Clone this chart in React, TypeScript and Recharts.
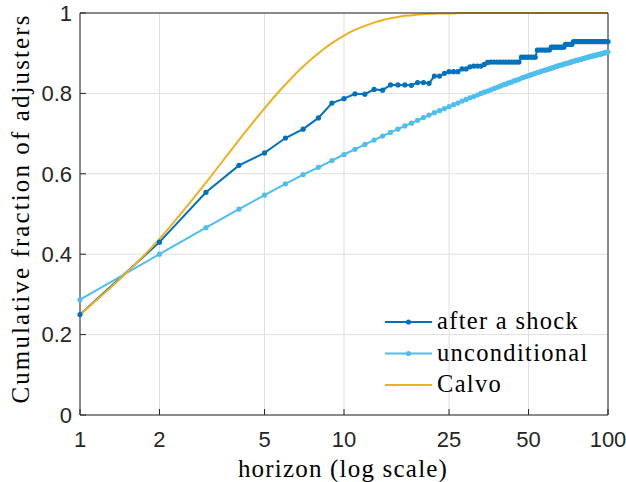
import React from 'react';
import { LineChart, Line, XAxis, YAxis, CartesianGrid } from 'recharts';

// horizon in periods (1..100)
const horizons = Array.from({ length: 100 }, (_, i) => i + 1);

const afterShock = [
  0.25, 0.43, 0.554, 0.621, 0.652, 0.689, 0.711, 0.739, 0.776, 0.787,
  0.799, 0.798, 0.81, 0.808, 0.821, 0.821, 0.821, 0.82, 0.827, 0.827,
  0.825, 0.843, 0.843, 0.85, 0.854, 0.854, 0.854, 0.861, 0.861, 0.866,
  0.868, 0.868, 0.868, 0.872, 0.877, 0.878, 0.878, 0.878, 0.878, 0.878,
  0.878, 0.878, 0.878, 0.878, 0.878, 0.878, 0.89, 0.89, 0.89, 0.89,
  0.89, 0.89, 0.89, 0.908, 0.908, 0.908, 0.908, 0.908, 0.908, 0.908,
  0.915, 0.915, 0.915, 0.915, 0.915, 0.915, 0.915, 0.915, 0.922, 0.922,
  0.922, 0.922, 0.922, 0.929, 0.929, 0.929, 0.929, 0.929, 0.929, 0.929,
  0.929, 0.929, 0.929, 0.929, 0.929, 0.929, 0.929, 0.929, 0.929, 0.929,
  0.929, 0.929, 0.929, 0.929, 0.929, 0.929, 0.929, 0.929, 0.929, 0.929,
];

const unconditional = [
  0.287, 0.4, 0.466, 0.512, 0.547, 0.575, 0.598, 0.616, 0.633, 0.648,
  0.661, 0.673, 0.684, 0.694, 0.703, 0.711, 0.719, 0.726, 0.733, 0.74,
  0.746, 0.752, 0.757, 0.762, 0.767, 0.772, 0.776, 0.781, 0.785, 0.789,
  0.792, 0.796, 0.8, 0.803, 0.806, 0.809, 0.812, 0.815, 0.818, 0.821,
  0.823, 0.826, 0.828, 0.831, 0.833, 0.835, 0.838, 0.84, 0.842, 0.844,
  0.846, 0.848, 0.85, 0.852, 0.853, 0.855, 0.857, 0.858, 0.86, 0.861,
  0.863, 0.864, 0.866, 0.867, 0.869, 0.87, 0.871, 0.873, 0.874, 0.875,
  0.876, 0.877, 0.879, 0.88, 0.881, 0.882, 0.883, 0.884, 0.885, 0.886,
  0.887, 0.888, 0.889, 0.89, 0.891, 0.892, 0.893, 0.893, 0.894, 0.895,
  0.896, 0.897, 0.897, 0.898, 0.899, 0.9, 0.901, 0.901, 0.902, 0.903,
];

const calvo = [
  0.25, 0.438, 0.578, 0.684, 0.763, 0.822, 0.867, 0.9, 0.925, 0.944,
  0.958, 0.968, 0.976, 0.982, 0.987, 0.99, 0.993, 0.994, 0.996, 0.997,
  0.998, 0.998, 0.999, 0.999, 0.999, 0.999, 1, 1, 1, 1,
  1, 1, 1, 1, 1, 1, 1, 1, 1, 1,
  1, 1, 1, 1, 1, 1, 1, 1, 1, 1,
  1, 1, 1, 1, 1, 1, 1, 1, 1, 1,
  1, 1, 1, 1, 1, 1, 1, 1, 1, 1,
  1, 1, 1, 1, 1, 1, 1, 1, 1, 1,
  1, 1, 1, 1, 1, 1, 1, 1, 1, 1,
  1, 1, 1, 1, 1, 1, 1, 1, 1, 1,
];

const xTicks = [1, 2, 5, 10, 25, 50, 100];
const yTicks = [0, 0.2, 0.4, 0.6, 0.8, 1];

const data = horizons.map((h, i) => ({
  h,
  shock: afterShock[i],
  uncond: unconditional[i],
  calvo: calvo[i],
}));

const AXIS = '#262626';
const GRID = '#dfdfdf';
const SANS = '"Liberation Sans", Arial, sans-serif';
const SERIF = '"Liberation Serif", "Times New Roman", serif';

const legendItems = [
  { label: 'after a shock', color: '#0072BD', dot: true },
  { label: 'unconditional', color: '#4DBEEE', dot: true },
  { label: 'Calvo', color: '#EDB120', dot: false },
];

const labelBase: React.CSSProperties = {
  position: 'absolute',
  fontFamily: SERIF,
  color: '#000',
  whiteSpace: 'nowrap',
  pointerEvents: 'none',
};

export default function App() {
  const tickStyle = { fill: AXIS, fontSize: 22, fontFamily: SANS };

  return (
    <div style={{ position: 'relative', width: 626, height: 482 }}>
      <style>{'body{margin:0}'}</style>
      <LineChart
        width={626}
        height={482}
        data={data}
        margin={{ top: 12, right: 17, bottom: 0, left: 0 }}
      >
        <CartesianGrid stroke={GRID} strokeWidth={1} />
        <XAxis
          dataKey="h"
          type="number"
          scale="log"
          domain={[1, 100]}
          ticks={xTicks}
          interval={0}
          height={67}
          tickSize={-6}
          tickMargin={22}
          stroke={AXIS}
          tick={tickStyle}
        />
        <XAxis
          xAxisId="top"
          orientation="top"
          type="number"
          scale="log"
          domain={[1, 100]}
          ticks={xTicks}
          interval={0}
          height={1}
          tickSize={-6}
          tick={false}
          stroke={AXIS}
        />
        <YAxis
          type="number"
          domain={[0, 1]}
          ticks={yTicks}
          interval={0}
          width={80}
          tickSize={-6}
          tickMargin={14}
          stroke={AXIS}
          tick={tickStyle}
        />
        <YAxis
          yAxisId="right"
          orientation="right"
          type="number"
          domain={[0, 1]}
          ticks={yTicks}
          interval={0}
          width={1}
          tickSize={-6}
          tick={false}
          stroke={AXIS}
        />
        <Line
          dataKey="shock"
          type="linear"
          stroke="#0072BD"
          strokeWidth={2}
          dot={{ r: 2.6, fill: '#0072BD', stroke: '#0072BD', strokeWidth: 0 }}
          isAnimationActive={false}
        />
        <Line
          dataKey="uncond"
          type="linear"
          stroke="#4DBEEE"
          strokeWidth={2}
          dot={{ r: 2.6, fill: '#4DBEEE', stroke: '#4DBEEE', strokeWidth: 0 }}
          isAnimationActive={false}
        />
        <Line
          dataKey="calvo"
          type="monotone"
          stroke="#EDB120"
          strokeWidth={2}
          dot={false}
          isAnimationActive={false}
        />
      </LineChart>

      {/* legend keys */}
      <svg
        width={626}
        height={482}
        style={{ position: 'absolute', left: 0, top: 0, pointerEvents: 'none' }}
      >
        {legendItems.map((item, i) => {
          const y = 322 + i * 31.5;
          return (
            <g key={item.label}>
              <line x1={385} x2={432} y1={y} y2={y} stroke={item.color} strokeWidth={2} />
              {item.dot && <circle cx={408.5} cy={y} r={2.6} fill={item.color} />}
            </g>
          );
        })}
      </svg>

      {/* axis titles and legend text */}
      <div
        style={{
          ...labelBase,
          left: -180.4,
          top: 196,
          width: 400,
          height: 25,
          fontSize: 25,
          lineHeight: '25px',
          letterSpacing: 2.1,
          textAlign: 'center',
          transform: 'rotate(-90deg)',
        }}
      >
        Cumulative fraction of adjusters
      </div>
      <div
        style={{
          ...labelBase,
          left: 143,
          top: 456,
          width: 400,
          fontSize: 25,
          lineHeight: '25px',
          letterSpacing: 1.2,
          textAlign: 'center',
        }}
      >
        horizon (log scale)
      </div>
      {legendItems.map((item, i) => (
        <div
          key={item.label}
          style={{
            ...labelBase,
            left: 437,
            top: 309 + i * 31.5,
            fontSize: 24.5,
            lineHeight: '24.5px',
            letterSpacing: 1.3,
          }}
        >
          {item.label}
        </div>
      ))}
    </div>
  );
}
